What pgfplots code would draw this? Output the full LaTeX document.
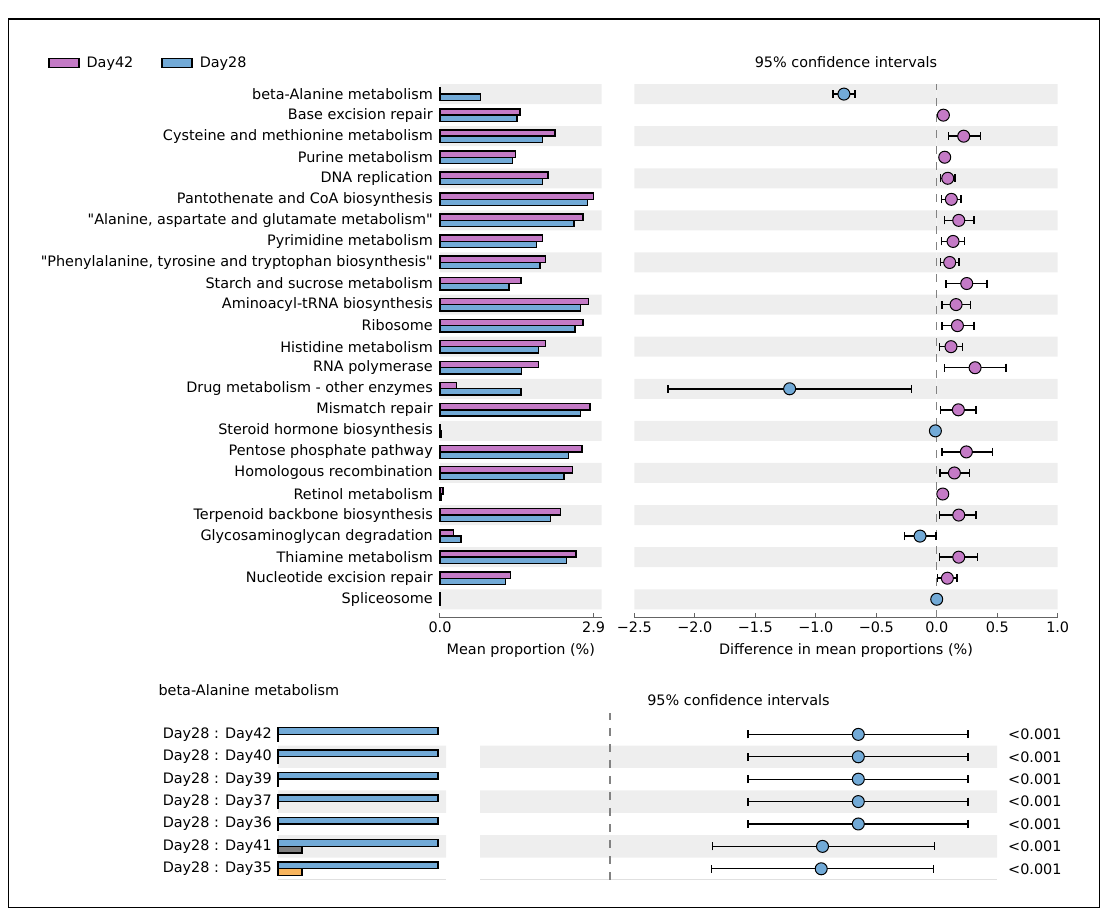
\documentclass[border=0pt]{standalone}
\usepackage{fontspec}
\setmainfont{DejaVu Sans}
\usepackage{pgfplots}
\pgfplotsset{compat=1.18}
\usepackage{pgfplotstable}

\definecolor{pinkc}{RGB}{196,122,198}
\definecolor{bluec}{RGB}{114,170,215}
\definecolor{grayc}{RGB}{128,128,128}
\definecolor{orangec}{RGB}{248,180,92}
\definecolor{stripec}{RGB}{238,238,238}
\definecolor{zeroc}{RGB}{130,130,130}
\definecolor{spinec}{RGB}{100,100,100}

% top panel: mean proportions (y = 24 - row index)
\pgfplotstableread{
y pink blue
24 0.005 0.77
23 1.51 1.45
22 2.17 1.94
21 1.42 1.37
20 2.04 1.94
19 2.90 2.78
18 2.70 2.53
17 1.94 1.82
16 1.99 1.89
15 1.53 1.30
14 2.80 2.65
13 2.70 2.55
12 1.99 1.86
11 1.86 1.54
10 0.31 1.53
9 2.83 2.65
8 0.01 0.02
7 2.68 2.42
6 2.50 2.34
5 0.06 0.02
4 2.27 2.08
3 0.25 0.40
2 2.57 2.39
1 1.33 1.24
0 0.01 0.01
}\barsTop

\pgfplotstableread{
y d lo hi
23 0.055 0.030 0.080
22 0.223 0.099 0.361
21 0.066 0.045 0.088
20 0.091 0.033 0.149
19 0.121 0.041 0.201
18 0.182 0.066 0.309
17 0.135 0.041 0.229
16 0.107 0.030 0.182
15 0.248 0.077 0.416
14 0.160 0.044 0.281
13 0.171 0.044 0.309
12 0.118 0.022 0.215
11 0.317 0.066 0.573
9 0.179 0.030 0.325
7 0.245 0.044 0.463
6 0.146 0.027 0.270
5 0.050 0.035 0.065
4 0.182 0.022 0.325
2 0.182 0.022 0.339
1 0.088 0.008 0.168
}\ciPink

\pgfplotstableread{
y d lo hi
24 -0.767 -0.858 -0.676
10 -1.216 -2.220 -0.207
8 -0.011 -0.020 -0.003
3 -0.138 -0.268 -0.008
0 0.000 -0.008 0.008
}\ciBlue

% bottom panel: beta-Alanine metabolism
\pgfplotstableread{
y blue
6 0.77
5 0.77
4 0.77
3 0.77
2 0.77
1 0.77
0 0.77
}\barsBotBlue

\pgfplotstableread{
y d lo hi
6 0.770 0.428 1.110
5 0.770 0.428 1.110
4 0.770 0.428 1.110
3 0.770 0.428 1.110
2 0.770 0.428 1.110
1 0.659 0.318 1.007
0 0.655 0.314 1.003
}\ciBot

\pgfplotsset{
  every axis/.append style={font=\fontsize{14.4}{17.3}\selectfont},
  stripe/.style={xbar, fill=stripec, draw=none, forget plot},
  barstyle/.style={xbar, draw=black, line width=1.4pt, bar width=0.3, forget plot},
}

\begin{document}
\begin{tikzpicture}[font=\fontsize{14.4}{17.3}\selectfont]
\useasboundingbox (0,0) rectangle (1112pt,913pt);

% ---------------- top bar panel ----------------
\begin{axis}[
  at={(440pt,295pt)}, anchor=south west, scale only axis,
  width=161.6pt, height=534pt,
  xmin=0, xmax=3.05, ymin=-0.89, ymax=24.48,
  axis x line*=bottom, axis y line*=left,
  y axis line style={draw=none},
  x axis line style={spinec, line width=1pt},
  xtick={0,2.9}, xticklabels={0.0,2.9},
  xtick align=inside, major tick length=5pt,
  xtick style={spinec, line width=1pt},
  ytick={0,...,24},
  yticklabels={Spliceosome, Nucleotide excision repair, Thiamine metabolism,
    Glycosaminoglycan degradation, Terpenoid backbone biosynthesis,
    Retinol metabolism, Homologous recombination, Pentose phosphate pathway,
    Steroid hormone biosynthesis, Mismatch repair, Drug metabolism - other enzymes,
    RNA polymerase, Histidine metabolism, Ribosome, Aminoacyl-tRNA biosynthesis,
    Starch and sucrose metabolism,
    {\textquotedbl Phenylalanine, tyrosine and tryptophan biosynthesis\textquotedbl},
    Pyrimidine metabolism,
    {\textquotedbl Alanine, aspartate and glutamate metabolism\textquotedbl},
    Pantothenate and CoA biosynthesis, DNA replication, Purine metabolism,
    Cysteine and methionine metabolism, Base excision repair, beta-Alanine metabolism},
  ytick style={draw=none},
  yticklabel style={inner sep=0pt, xshift=-7pt},
  xlabel={Mean proportion (\%)},
  xlabel style={at={(axis description cs:0.5,-0.06)}, anchor=center, inner sep=0pt},
  clip=false,
  legend style={at={(axis description cs:-2.4257,1.0393)}, anchor=west,
    draw=none, fill=none, inner sep=0pt, legend columns=2,
    /tikz/every odd column/.append style={column sep=7pt},
    /tikz/every even column/.append style={column sep=28pt},
    nodes={inner sep=0pt, anchor=west}},
  legend cell align=left,
]
\addplot[stripe, bar width=0.95] coordinates {(3.05,24) (3.05,22) (3.05,20) (3.05,18) (3.05,16) (3.05,14) (3.05,12) (3.05,10) (3.05,8) (3.05,6) (3.05,4) (3.05,2) (3.05,0)};
\addplot[barstyle, fill=pinkc, bar shift=0.15] table[x=pink, y=y] \barsTop;
\addplot[barstyle, fill=bluec, bar shift=-0.15] table[x=blue, y=y] \barsTop;
\addlegendimage{legend image code/.code={\draw[fill=pinkc,draw=black,line width=1.4pt] (0pt,-4.5pt) rectangle (30pt,4.5pt);}}
\addlegendentry{Day42}
\addlegendimage{legend image code/.code={\draw[fill=bluec,draw=black,line width=1.4pt] (0pt,-4.5pt) rectangle (30pt,4.5pt);}}
\addlegendentry{Day28}
\end{axis}

% ---------------- top CI panel ----------------
\begin{axis}[
  at={(634.3pt,295pt)}, anchor=south west, scale only axis,
  width=423.4pt, height=534pt,
  xmin=-2.5, xmax=1, ymin=-0.89, ymax=24.48,
  axis x line*=bottom, axis y line*=left,
  y axis line style={draw=none}, ytick=\empty,
  x axis line style={spinec, line width=1pt},
  xtick={-2.5,-2,-1.5,-1,-0.5,0,0.5,1},
  xticklabels={−2.5,−2.0,−1.5,−1.0,−0.5,0.0,0.5,1.0},
  xtick align=inside, major tick length=5pt,
  xtick style={spinec, line width=1pt},
  xlabel={Difference in mean proportions (\%)},
  xlabel style={at={(axis description cs:0.5,-0.06)}, anchor=center, inner sep=0pt},
  clip=false,
]
\addplot[stripe, bar width=0.95] coordinates {(1,24) (1,22) (1,20) (1,18) (1,16) (1,14) (1,12) (1,10) (1,8) (1,6) (1,4) (1,2) (1,0)};
\addplot[stripe, bar width=0.95] coordinates {(-2.5,24) (-2.5,22) (-2.5,20) (-2.5,18) (-2.5,16) (-2.5,14) (-2.5,12) (-2.5,10) (-2.5,8) (-2.5,6) (-2.5,4) (-2.5,2) (-2.5,0)};
\addplot[zeroc, line width=1.5pt, dash pattern=on 8pt off 8pt, forget plot] coordinates {(0,-0.89) (0,24.48)};
\addplot[only marks, mark=none, forget plot,
  error bars/.cd, x dir=both, x explicit, error mark=|,
  error bar style={line width=1.5pt, black},
  error mark options={line width=1.5pt, black, mark size=4pt}]
  table[x=d, y=y, x error plus expr=\thisrow{hi}-\thisrow{d}, x error minus expr=\thisrow{d}-\thisrow{lo}] \ciPink;
\addplot[only marks, mark=none, forget plot,
  error bars/.cd, x dir=both, x explicit, error mark=|,
  error bar style={line width=1.5pt, black},
  error mark options={line width=1.5pt, black, mark size=4pt}]
  table[x=d, y=y, x error plus expr=\thisrow{hi}-\thisrow{d}, x error minus expr=\thisrow{d}-\thisrow{lo}] \ciBlue;
\addplot[only marks, mark=*, mark size=6pt, mark options={fill=pinkc, draw=black, line width=1pt}, forget plot]
  table[x=d, y=y] \ciPink;
\addplot[only marks, mark=*, mark size=6pt, mark options={fill=bluec, draw=black, line width=1pt}, forget plot]
  table[x=d, y=y] \ciBlue;
\node at (axis description cs:0.5,1.0412) {95\% confidence intervals};
\end{axis}

% ---------------- bottom bar panel ----------------
\begin{axis}[
  at={(278pt,33pt)}, anchor=south west, scale only axis,
  width=168pt, height=166.9pt,
  xmin=0, xmax=0.8085, ymin=-0.5, ymax=6.95,
  axis x line*=bottom, axis y line*=left,
  y axis line style={draw=none},
  x axis line style={black!12, line width=1pt},
  xtick=\empty,
  ytick={0,...,6},
  yticklabels={Day28 : Day35, Day28 : Day41, Day28 : Day36, Day28 : Day37,
    Day28 : Day39, Day28 : Day40, Day28 : Day42},
  ytick style={draw=none},
  yticklabel style={inner sep=0pt, xshift=-6pt},
  clip=false,
]
\addplot[stripe, bar width=1] coordinates {(0.8085,5) (0.8085,3) (0.8085,1)};
\addplot[barstyle, fill=bluec, bar shift=0.15] table[x=blue, y=y] \barsBotBlue;
\addplot[barstyle, fill=pinkc, bar shift=-0.15] coordinates {(0.003,6) (0.003,5) (0.003,4) (0.003,3) (0.003,2)};
\addplot[barstyle, fill=grayc, bar shift=-0.15] coordinates {(0.115,1)};
\addplot[barstyle, fill=orangec, bar shift=-0.15] coordinates {(0.115,0)};
\end{axis}

% ---------------- bottom CI panel ----------------
\begin{axis}[
  at={(480pt,33pt)}, anchor=south west, scale only axis,
  width=517pt, height=166.9pt,
  xmin=-0.403, xmax=1.2, ymin=-0.5, ymax=6.95,
  axis x line*=bottom, axis y line*=right,
  y axis line style={draw=none},
  x axis line style={black!12, line width=1pt},
  xtick=\empty,
  ytick={0,...,6},
  yticklabels={<0.001,<0.001,<0.001,<0.001,<0.001,<0.001,<0.001},
  ytick style={draw=none},
  yticklabel style={inner sep=0pt, anchor=west, xshift=11pt},
  clip=false,
]
\addplot[stripe, bar width=1] coordinates {(1.2,5) (1.2,3) (1.2,1)};
\addplot[stripe, bar width=1] coordinates {(-0.403,5) (-0.403,3) (-0.403,1)};
\addplot[zeroc, line width=1.5pt, dash pattern=on 8pt off 8pt, forget plot] coordinates {(0,-0.5) (0,6.95)};
\addplot[only marks, mark=none, forget plot,
  error bars/.cd, x dir=both, x explicit, error mark=|,
  error bar style={line width=1.3pt, black},
  error mark options={line width=1.3pt, black, mark size=4pt}]
  table[x=d, y=y, x error plus expr=\thisrow{hi}-\thisrow{d}, x error minus expr=\thisrow{d}-\thisrow{lo}] \ciBot;
\addplot[only marks, mark=*, mark size=6pt, mark options={fill=bluec, draw=black, line width=1pt}, forget plot]
  table[x=d, y=y] \ciBot;
\node at (axis description cs:0.5,1.0785) {95\% confidence intervals};
\end{axis}

\node[anchor=west] at (155pt,223pt) {beta-Alanine metabolism};
\draw[line width=1.5pt] (8.3pt,5.3pt) rectangle (1099.3pt,894pt);
\end{tikzpicture}
\end{document}
